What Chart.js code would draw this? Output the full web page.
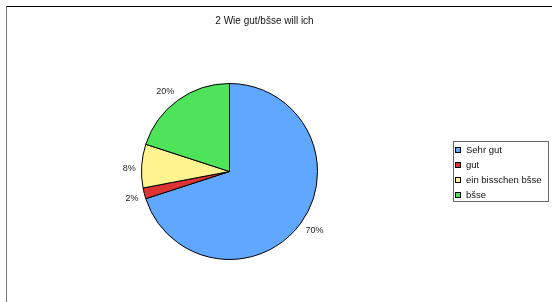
<!DOCTYPE html>
<html>
<head>
<meta charset="utf-8">
<script src="https://cdn.jsdelivr.net/npm/chart.js@4/dist/chart.umd.min.js"></script>
<style>
    body { margin: 0; background: #fff; font-family: 'Liberation Sans', Arial, sans-serif; }
    #wrap { position: relative; width: 552px; height: 302px; overflow: hidden; }
    #frame { position: absolute; left: 6px; top: 6px; width: 600px; height: 400px;
             border-top: 1px solid #000; border-left: 1px solid #777; }
    #chart { position: absolute; left: 0; top: 0; }
    #title { position: absolute; left: 0; top: 15px; width: 529px; text-align: center;
             font-size: 10px; line-height: 12px; color: #111; }
    #legend { position: absolute; left: 453px; top: 141px; width: 94px; height: 59px;
              border: 1px solid #666; font-size: 9.5px; line-height: 15px; color: #111; }
    #legend .item { position: relative; padding-left: 12px; white-space: nowrap; }
    #legend .box { position: absolute; left: 1px; top: 5px; width: 4px; height: 4px; border: 1px solid #000; }
</style>
</head>
<body>
<div id="wrap">
    <div id="frame"></div>
    <canvas id="chart" width="552" height="302"></canvas>
    <div id="title">2 Wie gut/bšse will ich</div>
    <div id="legend"></div>
</div>
<script>
// Daten
const categories = ['Sehr gut', 'gut', 'ein bisschen bšse', 'bšse'];
const percentValues = [70, 2, 8, 20];
const sliceColors = ['#60a8ff', '#dd3333', '#fff48f', '#4fe35a'];

// Legende
const legendEl = document.getElementById('legend');
categories.forEach((name, i) => {
    const item = document.createElement('div');
    item.className = 'item';
    const box = document.createElement('span');
    box.className = 'box';
    box.style.background = sliceColors[i];
    item.appendChild(box);
    item.appendChild(document.createTextNode(name));
    legendEl.appendChild(item);
});

// Prozent-Beschriftung ausserhalb der Stuecke
const outsideLabels = {
    id: 'outsideLabels',
    afterDatasetsDraw(chart) {
        const ctx = chart.ctx;
        const meta = chart.getDatasetMeta(0);
        ctx.save();
        ctx.font = '9px "Liberation Sans", Arial, sans-serif';
        ctx.fillStyle = '#222';
        ctx.textBaseline = 'middle';
        meta.data.forEach((arc, i) => {
            const p = arc.getProps(['x', 'y', 'startAngle', 'endAngle', 'outerRadius'], true);
            const mid = (p.startAngle + p.endAngle) / 2;
            const cos = Math.cos(mid), sin = Math.sin(mid);
            const x = p.x + (p.outerRadius + 6) * cos;
            const y = p.y + (p.outerRadius + 6) * sin + sin * 5 + 3 * (1 - Math.abs(sin));
            ctx.textAlign = cos >= 0 ? 'left' : 'right';
            ctx.fillText(percentValues[i] + '%', x, y);
        });
        ctx.restore();
    }
};

new Chart(document.getElementById('chart'), {
    type: 'pie',
    data: {
        labels: categories,
        datasets: [{
            data: percentValues,
            backgroundColor: sliceColors,
            borderColor: '#000',
            borderWidth: 1,
            hoverOffset: 0
        }]
    },
    options: {
        responsive: false,
        animation: false,
        layout: { padding: { left: 141, right: 234, top: 83, bottom: 42 } },
        plugins: {
            legend: { display: false },
            title: { display: false },
            tooltip: { enabled: false }
        }
    },
    plugins: [outsideLabels]
});
</script>
</body>
</html>
